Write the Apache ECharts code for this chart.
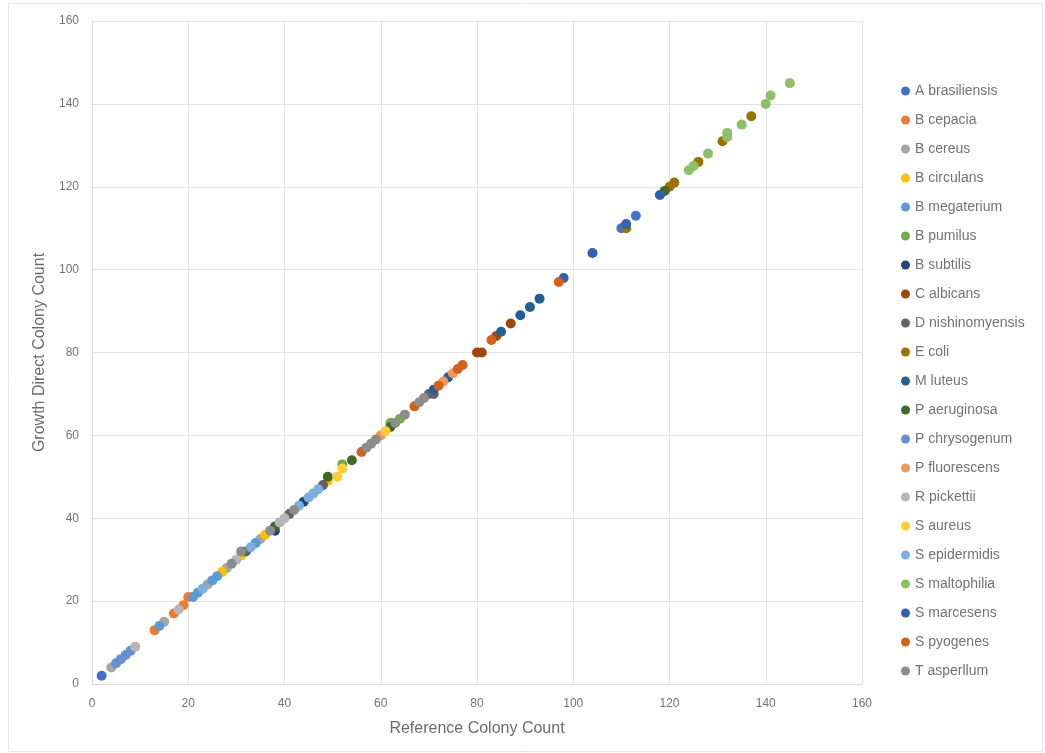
<!DOCTYPE html>
<html>
<head>
<meta charset="utf-8">
<script src="https://cdn.jsdelivr.net/npm/echarts@6/dist/echarts.min.js"></script>
<style>
html,body{margin:0;padding:0;background:#fff;}
#chart{width:1045px;height:753px;}
</style>
</head>
<body>
<div id="chart"></div>
<script>
// Species (legend order) and colours
const speciesNames = ["A brasiliensis","B cepacia","B cereus","B circulans","B megaterium","B pumilus","B subtilis","C albicans","D nishinomyensis","E coli","M luteus","P aeruginosa","P chrysogenum","P fluorescens","R pickettii","S aureus","S epidermidis","S maltophilia","S marcesens","S pyogenes","T asperllum"];
const speciesColors = ["#4472C4","#ED7D31","#A5A5A5","#FFC000","#5B9BD5","#70AD47","#264478","#9E480E","#636363","#997300","#255E91","#43682B","#698ED0","#F1975A","#B7B7B7","#FFCD33","#7CAFDD","#8CC168","#3360B0","#D2611C","#8C8C8C"];

// [reference count, growth direct count]
const aBrasiliensis = [[2,2],[110,110],[113,113]];
const bCepacia = [[13,13],[17,17],[19,19],[20,21]];
const bCereus = [[4,4],[15,15],[24,24],[28,28],[35,35]];
const bCirculans = [[27,27],[31,31],[36,36],[49,49]];
const bMegaterium = [[14,14],[21,21],[22,22],[25,25],[26,26],[34,34]];
const bPumilus = [[52,53],[62,63],[64,64]];
const bSubtilis = [[38,37],[44,44]];
const cAlbicans = [[80,80],[81,80],[84,84],[87,87]];
const dNishinomyensis = [[32,32],[41,41],[48,48],[70,70],[71,70]];
const eColi = [[111,110],[120,120],[121,121],[126,126],[131,131],[137,137]];
const mLuteus = [[71,71],[74,74],[85,85],[89,89],[91,91],[93,93]];
const pAeruginosa = [[38,38],[49,50],[54,54],[62,62],[119,119]];
const pChrysogenum = [[5,5],[6,6],[7,7],[8,8]];
const pFluorescens = [[60,60],[73,73],[75,75]];
const rPickettii = [[9,9],[18,18],[30,30],[39,39],[40,40]];
const sAureus = [[51,50],[52,52],[61,61]];
const sEpidermidis = [[23,23],[33,33],[43,43],[45,45],[46,46],[47,47]];
const sMaltophilia = [[124,124],[125,125],[128,128],[132,132],[132,133],[135,135],[140,140],[141,142],[145,145]];
const sMarcesens = [[98,98],[104,104],[111,111],[118,118]];
const sPyogenes = [[56,56],[67,67],[72,72],[76,76],[77,77],[83,83],[97,97]];
const tAsperllum = [[29,29],[31,32],[37,37],[42,42],[57,57],[58,58],[59,59],[63,63],[65,65],[68,68],[69,69]];

const speciesData = [aBrasiliensis,bCepacia,bCereus,bCirculans,bMegaterium,bPumilus,bSubtilis,cAlbicans,dNishinomyensis,eColi,mLuteus,pAeruginosa,pChrysogenum,pFluorescens,rPickettii,sAureus,sEpidermidis,sMaltophilia,sMarcesens,sPyogenes,tAsperllum];

const axisTicks = [0,20,40,60,80,100,120,140,160];

const chart = echarts.init(document.getElementById('chart'), null, {renderer:'canvas'});
const font = 'Liberation Sans, Arial, Helvetica, sans-serif';
const txt = '#737373';

const series = speciesNames.map((n,i)=>({
  name:n, type:'scatter', data:speciesData[i], symbol:'circle', symbolSize:10,
  itemStyle:{color:speciesColors[i], opacity:1}, z:2
}));

chart.setOption({
  animation:false,
  backgroundColor:'#fff',
  color:speciesColors,
  graphic:[{type:'rect', shape:{x:8.5,y:3.5,width:1034,height:748}, style:{fill:'none',stroke:'#e6e6e6',lineWidth:1}, silent:true, z:-1}],
  grid:{left:92, top:21, width:770, height:663, containLabel:false},
  xAxis:{
    type:'value', min:axisTicks[0], max:axisTicks[axisTicks.length-1], interval:20,
    name:'Reference Colony Count', nameLocation:'middle', nameGap:37,
    nameTextStyle:{fontFamily:font, fontSize:16, color:'#6b6b6b'},
    axisLine:{show:true, lineStyle:{color:'#d9d9d9'}},
    axisTick:{show:false},
    axisLabel:{fontFamily:font, fontSize:12, color:txt, margin:14},
    splitLine:{show:true, lineStyle:{color:'#e3e3e3', width:1}}
  },
  yAxis:{
    type:'value', min:axisTicks[0], max:axisTicks[axisTicks.length-1], interval:20,
    name:'Growth Direct Colony Count', nameLocation:'middle', nameGap:42,
    nameTextStyle:{fontFamily:font, fontSize:16, color:'#6b6b6b'},
    axisLine:{show:true, lineStyle:{color:'#d9d9d9'}},
    axisTick:{show:false},
    axisLabel:{fontFamily:font, fontSize:12, color:txt, margin:13},
    splitLine:{show:true, lineStyle:{color:'#e3e3e3', width:1}}
  },
  legend:{
    orient:'vertical', left:896, top:78,
    icon:'circle', itemWidth:9, itemHeight:9, itemGap:13, itemTextGap:5,
    textStyle:{fontFamily:font, fontSize:14, color:txt, lineHeight:16},
    data:speciesNames
  },
  series:series
});
</script>
</body>
</html>
